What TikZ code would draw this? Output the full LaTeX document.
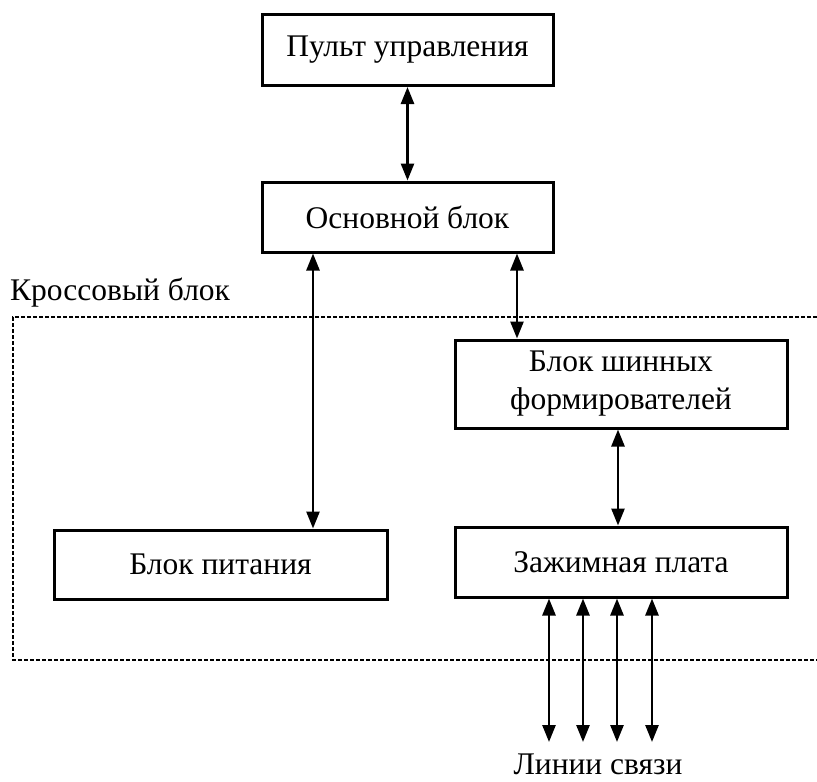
\documentclass[tikz,border=0pt]{standalone}
\usepackage{fontspec}
\setmainfont{Liberation Serif}
\usetikzlibrary{arrows.meta}
\begin{document}
\begin{tikzpicture}[x=1pt,y=-1pt,
  blk/.style={draw=black,line width=3pt,fill=white,inner sep=0pt,align=center,
    font=\fontsize{31.5}{38}\selectfont},
  lnk/.style={line width=2.6pt,{Triangle[length=17pt,width=13pt]}-{Triangle[length=17pt,width=13pt]}},
  frame/.style={line width=2.8pt,dash pattern=on 4pt off 2pt},
  lbl/.style={font=\fontsize{31.5}{38}\selectfont,inner sep=0pt}]
\useasboundingbox[fill=white] (0,0) rectangle (817,782);
\node[blk,minimum width=291pt,minimum height=71pt] (pu) at (407.5,50) {Пульт управления};
\node[blk,minimum width=291pt,minimum height=70pt] (osn) at (407.5,217) {Основной блок};
\node[blk,minimum width=333pt,minimum height=69pt] (pit) at (220.5,564.5) {Блок питания};
\node[blk,minimum width=332pt,minimum height=88pt] (shin) at (621,384) {Блок шинных\\формирователей};
\node[blk,minimum width=332pt,minimum height=70pt] (zh) at (621,562) {Зажимная плата};
\node[lbl,anchor=west] (kb) at (10,293) {Кроссовый блок};
\node[lbl,anchor=base] (ls) at (598,774) {Линии связи};
\draw[frame] (817,317) -- (13,317) -- (13,660) -- (817,660);
\coordinate (e1) at (549,742);
\coordinate (e2) at (583,742);
\coordinate (e3) at (617,742);
\coordinate (e4) at (652,742);
\draw[lnk] (pu.south) -- (osn.north);
\draw[lnk] ([xshift=-94.5pt]osn.south) -- ([xshift=92.5pt]pit.north);
\draw[lnk] ([xshift=109.5pt]osn.south) -- ([xshift=-104pt]shin.north);
\draw[lnk] ([xshift=-3pt]shin.south) -- ([xshift=-3pt]zh.north);
\draw[lnk] (zh.south -| e1) -- (e1);
\draw[lnk] (zh.south -| e2) -- (e2);
\draw[lnk] (zh.south -| e3) -- (e3);
\draw[lnk] (zh.south -| e4) -- (e4);
\end{tikzpicture}
\end{document}
